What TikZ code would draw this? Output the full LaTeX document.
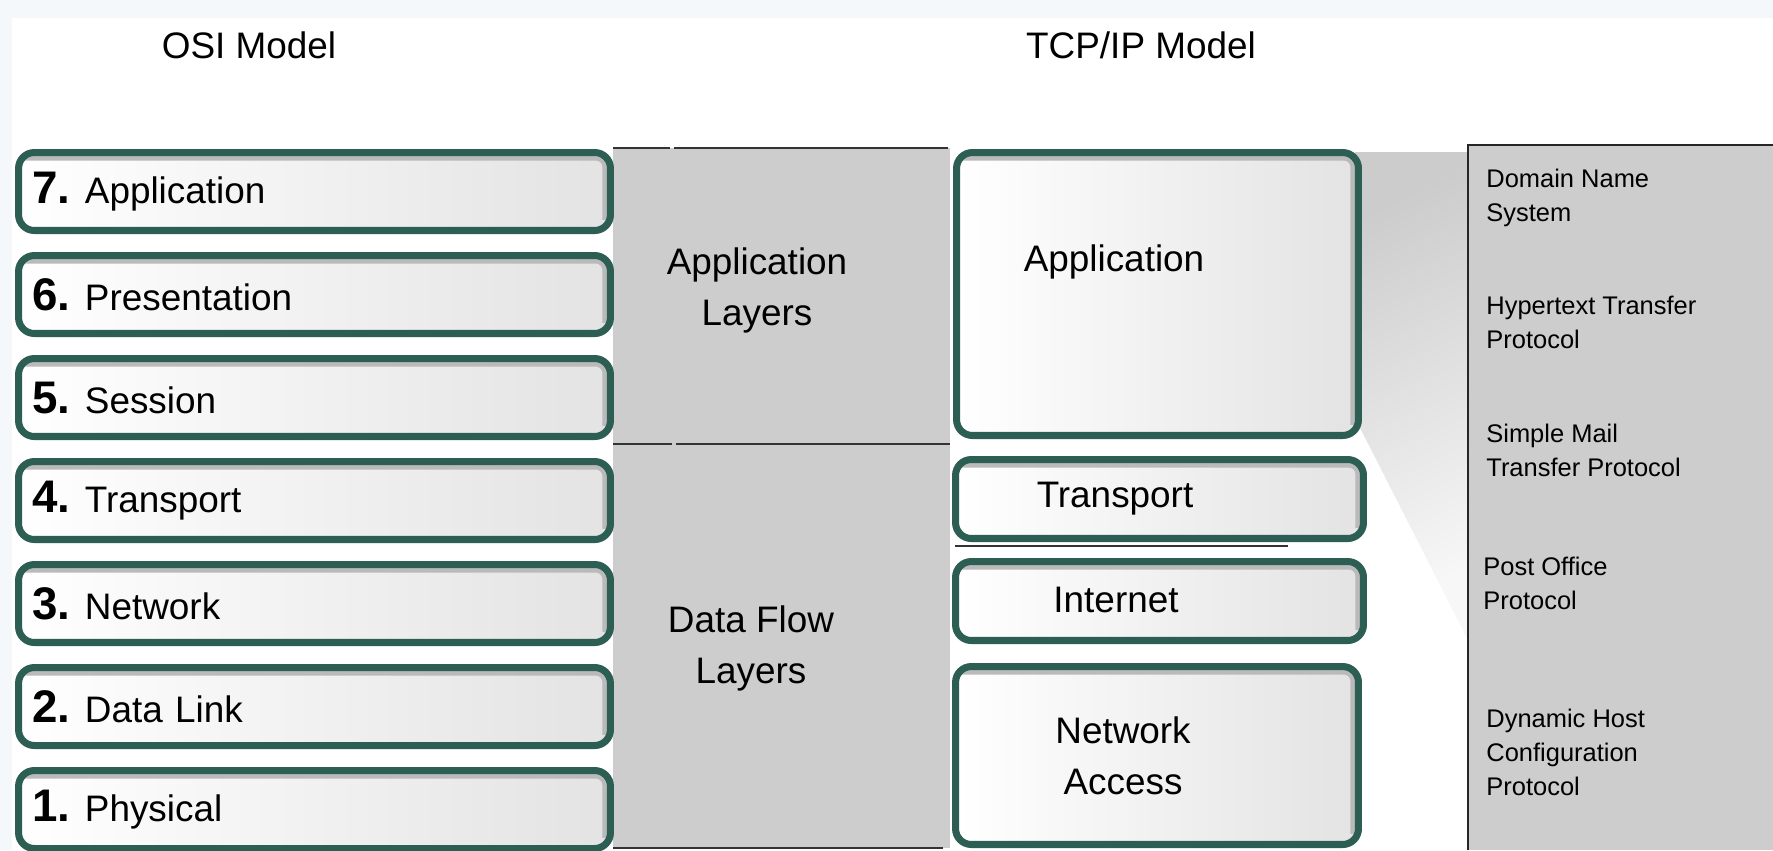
\documentclass[tikz,border=0pt]{standalone}
\usepackage{fontspec}
\setmainfont{Liberation Sans}
\usepackage{xcolor}
\usepackage{tikz}
\usetikzlibrary{positioning}

\definecolor{osigreen}{RGB}{44,94,84}
\definecolor{bandgray}{RGB}{205,205,205}
\definecolor{edgeblue}{RGB}{245,248,251}
\newcommand{\lnum}[1]{{\fontsize{26}{26}\selectfont\bfseries #1.}\hspace{0.4em}}

\begin{document}
\begin{tikzpicture}[x=0.02cm,y=-0.02cm]
					\tikzstyle{layer}=[draw=osigreen,line width=4pt,rounded corners=9pt,left color=white,right color=black!11,inner sep=0pt,
						path picture={\draw[black!27,line width=2.5pt,rounded corners=5pt]
							([xshift=3pt,yshift=-3.3pt]path picture bounding box.north west) -- ([xshift=-3.3pt,yshift=-3.3pt]path picture bounding box.north east) -- ([xshift=-3.3pt,yshift=6pt]path picture bounding box.south east);}]
					\tikzstyle{osi}=[layer,minimum width=11.84cm,minimum height=1.56cm,text width=11.3cm,align=left,font=\fontsize{21}{25}\selectfont]
					\tikzstyle{txt}=[align=center,font=\fontsize{21}{29}\selectfont]
					\tikzstyle{proto}=[anchor=west,align=left,inner sep=0pt,font=\fontsize{14.5}{19.3}\selectfont]
					\tikzstyle{rule}=[black!80,line width=1.5pt]
					% background
					\fill[edgeblue] (0,0) rectangle (1773,850);
					\fill[white] (12,18) rectangle (1773,850);
					\useasboundingbox (0,0) rectangle (1773,850);
					% titles
					\node[txt](osit) at (249,45){OSI Model};
					\node[txt](tcpt) at (1141,45){TCP/IP Model};
					% grey band and fade
					\fill[bandgray] (613,148) rectangle (950,848);
					\draw[rule] (613,148) -- (670,148) (674,148) -- (948,148);
					\draw[rule] (613,444) -- (672,444) (676,444) -- (950,444);
					\draw[rule] (613,848) -- (943,848);
					\shade[shading=axis,top color=black!20,bottom color=black!3,shading angle=25] (1355,152) -- (1468,152) -- (1468,640) -- (1355,418) -- cycle;
					\fill[bandgray] (1468,145) rectangle (1773,850);
					\draw[black!85,line width=1.2pt] (1468,850) -- (1468,145) -- (1773,145);
					% OSI layers
					\node[osi](osi7) at (314.5,191.5){\lnum{7}Application};
					\node[osi](osi6) at (314.5,294.5){\lnum{6}Presentation};
					\node[osi](osi5) at (314.5,397.5){\lnum{5}Session};
					\node[osi](osi4) at (314.5,500.5){\lnum{4}Transport};
					\node[osi](osi3) at (314.5,603.5){\lnum{3}Network};
					\node[osi](osi2) at (314.5,706.5){\lnum{2}Data Link};
					\node[osi](osi1) at (314.5,809.5){\lnum{1}Physical};
					\node[txt](appl) at (757,290){Application\\Layers};
					\node[txt](dfl) at (751,648){Data Flow\\Layers};
					% TCP/IP layers
					\node[layer,minimum width=8.04cm,minimum height=5.66cm](tapp) at (1157.5,294){};
					\node[layer,minimum width=8.16cm,minimum height=1.58cm](ttrans) at (1159.5,499){};
					\node[layer,minimum width=8.16cm,minimum height=1.58cm](tnet) at (1159.5,601){};
					\node[layer,minimum width=8.06cm,minimum height=3.56cm](tacc) at (1157,755.5){};
					\draw[rule] (955,546) -- (1288,546);
					\node[txt](tappt) at (1114,262){Application};
					\node[txt](ttranst) at (1115,499){Transport};
					\node[txt](tnett) at (1116,600){Internet};
					\node[txt](tacct) at (1123,756){Network\\Access};
					% protocols
					\node[proto](dns) at (1486,198){Domain Name\\System};
					\node[proto](http) at (1486,322){Hypertext Transfer\\Protocol};
					\node[proto](smtp) at (1486,450){Simple Mail\\Transfer Protocol};
					\node[proto](pop) at (1483,583){Post Office\\Protocol};
					\node[proto](dhcp) at (1486,752){Dynamic Host\\Configuration\\Protocol};
				\end{tikzpicture}
\end{document}
